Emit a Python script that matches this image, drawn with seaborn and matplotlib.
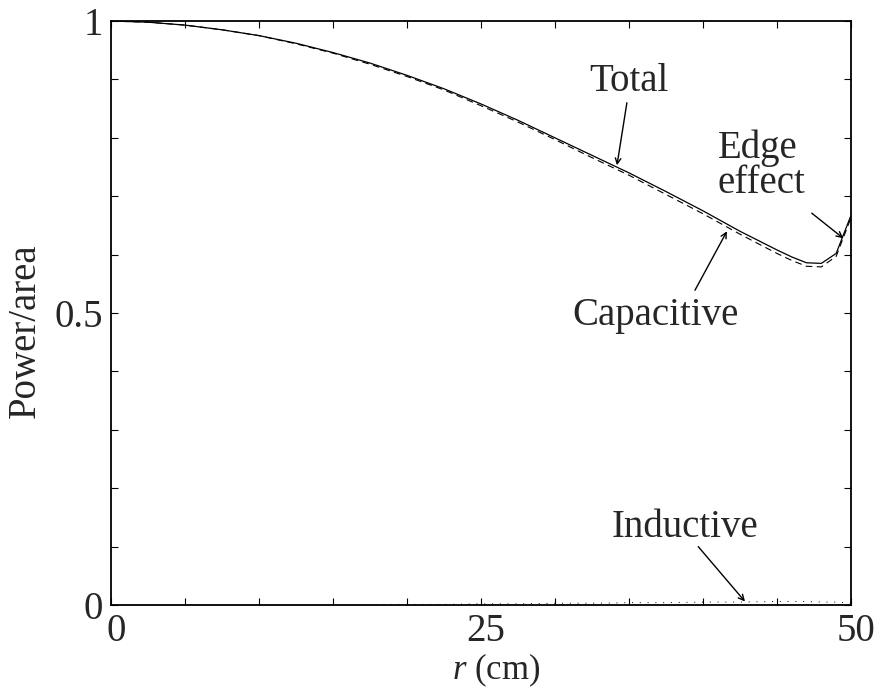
import matplotlib
matplotlib.use("Agg")
import matplotlib.pyplot as plt
import matplotlib.transforms as mtransforms
import numpy as np
import pandas as pd
import seaborn as sns

# values
r_cm = [0, 2.5, 5, 7.5, 10, 12.5, 15, 17.5, 20, 22.5, 25, 27.5, 30, 32.5,
        35, 37.5, 40, 42.5, 45, 46, 47, 48, 49, 50]
total = [1.000, 0.998, 0.993, 0.985, 0.975, 0.962, 0.946, 0.928, 0.907, 0.884,
         0.858, 0.830, 0.800, 0.770, 0.740, 0.708, 0.675, 0.640, 0.608, 0.596,
         0.586, 0.585, 0.602, 0.667]
capacitive = [1.000, 0.998, 0.993, 0.985, 0.975, 0.961, 0.945, 0.926, 0.905,
              0.882, 0.855, 0.827, 0.797, 0.766, 0.736, 0.703, 0.670, 0.635,
              0.602, 0.590, 0.580, 0.579, 0.597, 0.663]
inductive = [0.000, 0.000, 0.000, 0.000, 0.000, 0.000, 0.000, 0.000, 0.001,
             0.001, 0.002, 0.002, 0.003, 0.003, 0.004, 0.004, 0.005, 0.005,
             0.006, 0.006, 0.006, 0.005, 0.005, 0.003]

x_ticks = list(range(0, 51, 5))
x_labels = ['0', '', '', '', '', '25', '', '', '', '', '50']
y_ticks = [round(0.1 * i, 1) for i in range(11)]
y_labels = ['0', '', '', '', '', '0.5', '', '', '', '', '1']

df = pd.DataFrame({'r': r_cm, 'total': total, 'capacitive': capacitive,
                   'inductive': inductive})

sns.set_style('ticks')
plt.rcParams['font.family'] = ['Liberation Serif', 'DejaVu Serif']
plt.rcParams['mathtext.fontset'] = 'custom'
plt.rcParams['mathtext.rm'] = 'Liberation Serif'
plt.rcParams['mathtext.it'] = 'Liberation Serif:italic'

fig = plt.figure(figsize=(8.8, 6.89), dpi=100)
ax = fig.add_axes([0.1261, 0.1219, 0.8409, 0.8476])

sns.lineplot(data=df, x='r', y='total', ax=ax, color='black', lw=0.9)
sns.lineplot(data=df, x='r', y='capacitive', ax=ax, color='black', lw=0.8)
ax.lines[-1].set_dashes((6, 4))
sns.lineplot(data=df, x='r', y='inductive', ax=ax, color='black', lw=0.7)
ax.lines[-1].set_dashes((1, 7))

ax.set_xlim(0, 50)
ax.set_ylim(0, 1)
ax.set_xticks(x_ticks)
ax.set_xticklabels(x_labels)
ax.set_yticks(y_ticks)
ax.set_yticklabels(y_labels)
ax.tick_params(direction='in', length=5, width=0.8, labelsize=28,
               top=True, right=True, color='black')
ax.tick_params(axis='x', pad=6)
ax.tick_params(axis='y', pad=6)
for s in ax.spines.values():
    s.set_linewidth(1.3)
    s.set_color('black')

# tick labels sit a few pixels right of their ticks in the original
shift = mtransforms.ScaledTranslation(5 / 100, 0, fig.dpi_scale_trans)
for lab in ax.get_xticklabels():
    lab.set_transform(lab.get_transform() + shift)

ax.set_xlabel('$r$ (cm)', fontsize=25)
ax.set_ylabel('Power/area', fontsize=28)
ax.yaxis.set_label_coords(-0.09, 0.47)

# put the x label right under the tick labels, as tight as the original
fig.canvas.draw()
tl_bottom = min(l.get_window_extent().y0 for l in ax.get_xticklabels()
                if l.get_text())
ax_box = ax.get_window_extent()
ax.xaxis.set_label_coords(0.52, (tl_bottom - 1 - ax_box.y0) / ax_box.height)

fs = 28
arrow = dict(arrowstyle='->', color='black', lw=1.0, shrinkA=0, shrinkB=0)
ax.text(35.0, 0.88, 'Total', fontsize=fs, ha='center', va='baseline')
ax.annotate('', xy=(34.19, 0.753), xytext=(34.86, 0.860), arrowprops=arrow)
ax.text(36.8, 0.479, 'Capacitive', fontsize=fs, ha='center', va='baseline')
ax.annotate('', xy=(41.62, 0.640), xytext=(39.46, 0.539), arrowprops=arrow)
ax.text(41.0, 0.705, 'Edge\neffect', fontsize=fs, ha='left', va='baseline',
        linespacing=0.95)
ax.annotate('', xy=(49.48, 0.628), xytext=(47.35, 0.671), arrowprops=arrow)
ax.text(38.8, 0.117, 'Inductive', fontsize=fs, ha='center', va='baseline')
ax.annotate('', xy=(42.84, 0.006), xytext=(39.68, 0.100), arrowprops=arrow)

fig.savefig('out.png', dpi=100)
